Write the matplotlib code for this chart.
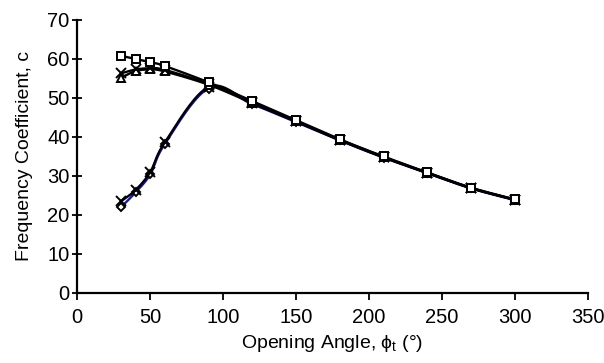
import numpy as np
import matplotlib
matplotlib.use("Agg")
import matplotlib.pyplot as plt

# opening angle (deg)
angle = [30, 40, 50, 60, 90, 120, 150, 180, 210, 240, 270, 300]

# frequency coefficient, one list per curve
c_square = [60.8, 60.0, 59.2, 58.2, 54.0, 49.2, 44.3, 39.4, 35.0, 30.9, 27.0, 24.0]
c_cross_up = [56.3, 57.3, 57.6, 57.2, 53.6, 48.9, 44.1, 39.3, 34.9, 30.8, 26.9, 23.9]
c_triangle = [55.2, 56.9, 57.3, 56.8, 53.4, 48.7, 44.0, 39.2, 34.8, 30.8, 26.9, 23.9]
c_diamond = [22.0, 25.8, 30.4, 38.2, 52.4, 48.4, 43.8, 39.1, 34.7, 30.7, 26.8, 23.8]
c_cross_low = [23.5, 26.4, 31.0, 38.6, 52.8, 48.6, 44.0, 39.2, 34.8, 30.8, 26.9, 23.9]


def smooth(x, y, n=20):
    # catmull-rom curve through the points (like Excel "smoothed line")
    x = np.asarray(x, float)
    y = np.asarray(y, float)
    px = np.concatenate([[2 * x[0] - x[1]], x, [2 * x[-1] - x[-2]]])
    py = np.concatenate([[2 * y[0] - y[1]], y, [2 * y[-1] - y[-2]]])
    t = np.linspace(0, 1, n, endpoint=False)
    xs, ys = [], []
    for i in range(1, len(px) - 2):
        for p, out in ((px, xs), (py, ys)):
            p0, p1, p2, p3 = p[i - 1], p[i], p[i + 1], p[i + 2]
            out.extend(0.5 * (2 * p1 + (-p0 + p2) * t
                              + (2 * p0 - 5 * p1 + 4 * p2 - p3) * t ** 2
                              + (-p0 + 3 * p1 - 3 * p2 + p3) * t ** 3))
    xs.append(x[-1])
    ys.append(y[-1])
    return xs, ys


plt.rcParams["font.family"] = ["Liberation Sans", "DejaVu Sans"]
plt.rcParams["mathtext.fontset"] = "custom"
plt.rcParams["mathtext.rm"] = "Liberation Sans"

fig = plt.figure(figsize=(6.04, 3.63), dpi=100)
ax = fig.add_axes([0.128, 0.193, 0.845, 0.752])

series = [
    (c_diamond, "D", "#1a1a9a", 4.5),
    (c_cross_low, "x", "black", 7),
    (c_triangle, "^", "black", 6),
    (c_cross_up, "x", "black", 7),
    (c_square, "s", "black", 5.5),
]
for vals, mk, col, ms in series:
    sx, sy = smooth(angle, vals)
    ax.plot(sx, sy, color=col, lw=1.7)
    ax.plot(angle, vals, ls="none", marker=mk, ms=ms, mfc="white",
            mec="black", mew=1.4)

ax.set_xlim(0, 350)
ax.set_ylim(0, 70)
ax.set_xticks(range(0, 351, 50))
ax.set_yticks(range(0, 71, 10))
ax.spines["top"].set_visible(False)
ax.spines["right"].set_visible(False)
ax.spines["left"].set_linewidth(1.6)
ax.spines["bottom"].set_linewidth(1.6)
ax.tick_params(axis="y", direction="inout", length=7, width=1.3,
               labelsize=14.5, pad=2)
ax.tick_params(axis="x", direction="out", length=5, width=1.3,
               labelsize=14.5, pad=6)
ax.set_xlabel("Opening Angle, $\\mathregular{\\phi_t}$ (°)", fontsize=14,
              labelpad=4)
ax.set_ylabel("Frequency Coefficient, c", fontsize=14, labelpad=10)

fig.savefig("out.png", dpi=100)
